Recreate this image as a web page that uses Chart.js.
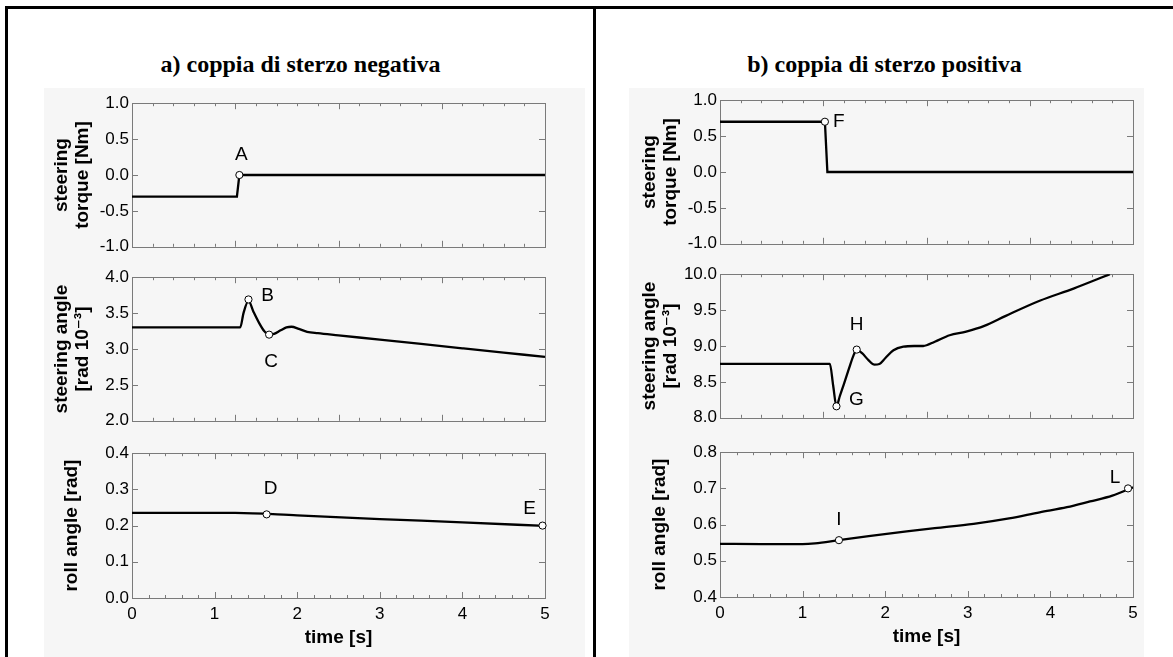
<!DOCTYPE html>
<html>
<head>
<meta charset="utf-8">
<script src="https://cdn.jsdelivr.net/npm/chart.js@4.4.0/dist/chart.umd.min.js"></script>
<style>
html,body{margin:0;padding:0;background:#fff;width:1173px;height:657px;overflow:hidden;position:relative;}
.bg{position:absolute;background:#f6f6f6;}
.frame{position:absolute;background:#000;}
.title{position:absolute;font-family:'Liberation Serif','Times New Roman',serif;font-weight:bold;font-size:24px;line-height:28px;text-align:center;color:#000;}
canvas{position:absolute;}
</style>
</head>
<body>
<div class="bg" style="left:44px;top:88px;width:541px;height:569px"></div>
<div class="bg" style="left:629px;top:88px;width:515px;height:569px"></div>
<div class="frame" style="left:5px;top:6px;width:3px;height:651px"></div>
<div class="frame" style="left:5px;top:6px;width:1168px;height:3px"></div>
<div class="frame" style="left:593px;top:6px;width:3px;height:651px"></div>
<div class="title" style="left:8px;width:585px;top:50px">a) coppia di sterzo negativa</div>
<div class="title" style="left:596px;width:577px;top:50px">b) coppia di sterzo positiva</div>

<canvas id="a1" width="560" height="170" style="left:20px;top:90px"></canvas>
<canvas id="a2" width="560" height="170" style="left:20px;top:264px"></canvas>
<canvas id="a3" width="560" height="218" style="left:20px;top:440px"></canvas>
<canvas id="b1" width="560" height="170" style="left:608px;top:87px"></canvas>
<canvas id="b2" width="560" height="170" style="left:608px;top:261px"></canvas>
<canvas id="b3" width="560" height="218" style="left:608px;top:439px"></canvas>

<script>
// ---------- DATA ----------
const xTickLabels = ['0', '1', '2', '3', '4', '5'];

// a) negative steering torque
const timeA_torque = [0, 1.27, 1.30, 5];
const torqueA      = [-0.30, -0.30, 0.00, 0.00];
const timeA_steer  = [0, 1.31, 1.35, 1.41, 1.47, 1.54, 1.60, 1.66, 1.72, 1.80, 1.87, 1.93, 2.02, 2.12, 2.25, 2.5, 3.0, 3.5, 4.0, 4.5, 5.0];
const steerA       = [3.30, 3.30, 3.50, 3.67, 3.52, 3.36, 3.25, 3.20, 3.21, 3.26, 3.30, 3.31, 3.28, 3.24, 3.22, 3.19, 3.13, 3.07, 3.01, 2.95, 2.89];
const timeA_roll   = [0, 1.25, 2.0, 3.0, 4.0, 5.0];
const rollA        = [0.235, 0.235, 0.228, 0.218, 0.209, 0.199];

const markTimeA_torque = [1.30];  const markValA_torque = [0.00];        const markNameA_torque = ['A'];
const markTimeA_steer  = [1.41, 1.66]; const markValA_steer = [3.69, 3.20]; const markNameA_steer = ['B', 'C'];
const markTimeA_roll   = [1.63, 4.97]; const markValA_roll = [0.231, 0.200]; const markNameA_roll = ['D', 'E'];

// b) positive steering torque
const timeB_torque = [0, 1.27, 1.30, 5];
const torqueB      = [0.70, 0.70, 0.00, 0.00];
const timeB_steer  = [0, 1.33, 1.37, 1.41, 1.45, 1.50, 1.56, 1.62, 1.655, 1.72, 1.80, 1.87, 1.93, 2.00, 2.10, 2.22, 2.35, 2.46, 2.60, 2.78, 2.98, 3.20, 3.46, 3.87, 4.28, 4.72];
const steerB       = [8.75, 8.75, 8.45, 8.16, 8.30, 8.47, 8.68, 8.88, 8.95, 8.90, 8.80, 8.74, 8.75, 8.83, 8.94, 8.99, 9.00, 9.00, 9.06, 9.15, 9.20, 9.28, 9.42, 9.63, 9.80, 10.00];
const timeB_roll   = [0, 0.5, 1.0, 1.15, 1.44, 1.8, 2.26, 2.6, 3.07, 3.5, 3.87, 4.2, 4.48, 4.75, 5.0];
const rollB        = [0.547, 0.546, 0.546, 0.548, 0.557, 0.568, 0.581, 0.590, 0.602, 0.617, 0.634, 0.648, 0.664, 0.680, 0.703];

const markTimeB_torque = [1.27];  const markValB_torque = [0.70];        const markNameB_torque = ['F'];
const markTimeB_steer  = [1.41, 1.655]; const markValB_steer = [8.16, 8.95]; const markNameB_steer = ['G', 'H'];
const markTimeB_roll   = [1.44, 4.94]; const markValB_roll = [0.557, 0.700]; const markNameB_roll = ['I', 'L'];

// ---------- RENDERING ----------
const SANS = "'Liberation Sans', Arial, 'DejaVu Sans', sans-serif";
const zip = (xs, ys) => xs.map((x, i) => ({x: x, y: ys[i]}));

const frameTicks = {
  id: 'frameTicks',
  beforeDatasetsDraw(chart, args, o) {
    const {ctx, chartArea: a} = chart;
    const x = chart.scales.x, y = chart.scales.y;
    ctx.save();
    ctx.strokeStyle = o.color;
    ctx.lineWidth = 1;
    ctx.strokeRect(Math.round(a.left) + 0.5, Math.round(a.top) + 0.5, Math.round(a.right - a.left), Math.round(a.bottom - a.top));
    ctx.beginPath();
    const n = Math.round((x.max - x.min) / o.xMinor);
    for (let i = 0; i <= n; i++) {
      const px = Math.round(x.getPixelForValue(x.min + i * o.xMinor)) + 0.5;
      const len = (i % o.xMajorEvery === 0) ? o.majorLen : o.minorLen;
      ctx.moveTo(px, a.top); ctx.lineTo(px, a.top + len);
      ctx.moveTo(px, a.bottom); ctx.lineTo(px, a.bottom - len);
    }
    y.ticks.forEach(t => {
      const py = Math.round(y.getPixelForValue(t.value)) + 0.5;
      ctx.moveTo(a.left, py); ctx.lineTo(a.left + o.majorLen, py);
      ctx.moveTo(a.right, py); ctx.lineTo(a.right - o.majorLen, py);
    });
    ctx.stroke();
    ctx.restore();
  }
};

const pointLabels = {
  id: 'pointLabels',
  afterDatasetsDraw(chart, args, o) {
    const {ctx} = chart;
    const x = chart.scales.x, y = chart.scales.y;
    ctx.save();
    ctx.font = o.font;
    ctx.fillStyle = '#000';
    ctx.textAlign = 'center';
    ctx.textBaseline = 'middle';
    o.names.forEach((name, i) => {
      ctx.fillText(name, x.getPixelForValue(o.xs[i]) + o.offsets[i][0], y.getPixelForValue(o.ys[i]) + o.offsets[i][1]);
    });
    ctx.restore();
  }
};

function makeChart(id, c) {
  const xScale = {
    type: 'linear', min: 0, max: 5,
    display: c.bottom,
    grid: {display: false, drawTicks: false},
    border: {display: false},
    ticks: {stepSize: 1, padding: 6, color: '#000', font: {family: SANS, size: 17}, callback: v => xTickLabels[v]},
    title: {display: c.bottom, text: 'time [s]', color: '#000', font: {family: SANS, size: 19, weight: 'bold', lineHeight: 1.2}, padding: {top: 0, bottom: 8.6}}
  };
  if (c.bottom) xScale.afterFit = s => { s.height = 60; };
  return new Chart(document.getElementById(id), {
    type: 'line',
    data: {
      datasets: [
        {data: zip(c.t, c.v), borderColor: '#000', borderWidth: 2.3, pointRadius: 0, fill: false,
         tension: 0, cubicInterpolationMode: c.smooth ? 'monotone' : 'default', order: 2},
        {data: zip(c.mt, c.mv), showLine: false, pointRadius: 3.6, pointBackgroundColor: '#fff',
         pointBorderColor: '#000', pointBorderWidth: 1, clip: false, order: 1}
      ]
    },
    options: {
      responsive: false, animation: false, events: [],
      layout: {padding: {top: c.pt, bottom: c.pb, left: 0, right: 35}},
      plugins: {
        legend: {display: false}, tooltip: {enabled: false},
        frameTicks: {color: '#7a7a7a', xMinor: c.xMinor, xMajorEvery: 5, majorLen: 6, minorLen: 3},
        pointLabels: {font: '19px ' + SANS, names: c.names, xs: c.mt, ys: c.mv, offsets: c.offsets}
      },
      scales: {
        x: xScale,
        y: {
          type: 'linear', min: c.min, max: c.max,
          grid: {display: false, drawTicks: false},
          border: {display: false},
          ticks: {stepSize: c.step, autoSkip: false, padding: 3, color: '#000', font: {family: SANS, size: 17}, callback: v => Number(v).toFixed(1)},
          title: {display: true, text: c.title, color: '#000', font: {family: SANS, size: 19, weight: 'bold', lineHeight: 1.1}, padding: {top: c.titlePad, bottom: 0}},
          afterFit: s => { s.width = 112; }
        }
      }
    },
    plugins: [frameTicks, pointLabels]
  });
}

const torqueTitle = ['steering', 'torque [Nm]'];
const steerTitle = ['steering angle', '[rad 10\u207B\u00B3]'];
const rollTitle = 'roll angle [rad]';

makeChart('a1', {t: timeA_torque, v: torqueA, mt: markTimeA_torque, mv: markValA_torque, names: markNameA_torque,
  offsets: [[2, -20]], min: -1, max: 1, step: 0.5, title: torqueTitle, titlePad: 31.5, pt: 12, pb: 12, bottom: false, smooth: false, xMinor: 0.25});
makeChart('a2', {t: timeA_steer, v: steerA, mt: markTimeA_steer, mv: markValA_steer, names: markNameA_steer,
  offsets: [[19, -4], [2, 27]], min: 2, max: 4, step: 0.5, title: steerTitle, titlePad: 31.5, pt: 12, pb: 12, bottom: false, smooth: true, xMinor: 0.25});
makeChart('a3', {t: timeA_roll, v: rollA, mt: markTimeA_roll, mv: markValA_roll, names: markNameA_roll,
  offsets: [[4, -26], [-13, -17]], min: 0, max: 0.4, step: 0.1, title: rollTitle, titlePad: 41, pt: 11, pb: 0, bottom: true, smooth: true, xMinor: 0.2});
makeChart('b1', {t: timeB_torque, v: torqueB, mt: markTimeB_torque, mv: markValB_torque, names: markNameB_torque,
  offsets: [[14, 0]], min: -1, max: 1, step: 0.5, title: torqueTitle, titlePad: 31.5, pt: 12, pb: 12, bottom: false, smooth: false, xMinor: 0.25});
makeChart('b2', {t: timeB_steer, v: steerB, mt: markTimeB_steer, mv: markValB_steer, names: markNameB_steer,
  offsets: [[20, -7], [0, -25]], min: 8, max: 10, step: 0.5, title: steerTitle, titlePad: 31.5, pt: 12, pb: 12, bottom: false, smooth: true, xMinor: 0.25});
makeChart('b3', {t: timeB_roll, v: rollB, mt: markTimeB_roll, mv: markValB_roll, names: markNameB_roll,
  offsets: [[0, -20], [-13, -11]], min: 0.4, max: 0.8, step: 0.1, title: rollTitle, titlePad: 41, pt: 11, pb: 0, bottom: true, smooth: true, xMinor: 0.2});
</script>
</body>
</html>
